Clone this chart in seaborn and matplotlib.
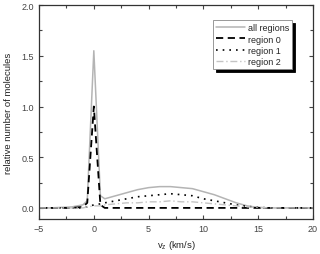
import matplotlib
matplotlib.use("Agg")
import matplotlib.pyplot as plt
import pandas as pd
import seaborn as sns
from matplotlib.ticker import MultipleLocator

# velocity grid (km/s)
vz = [-5, -4, -3, -2, -1, -0.6, 0, 0.6, 1, 2, 3, 4, 5, 6, 7, 8, 9, 10,
      11, 12, 13, 14, 15, 16, 17, 18, 19, 20]

all_regions = [0, 0, 0.005, 0.01, 0.03, 0.07, 1.55, 0.12, 0.09, 0.12, 0.15,
               0.18, 0.20, 0.21, 0.21, 0.20, 0.19, 0.16, 0.13, 0.09, 0.05,
               0.02, 0.005, 0, 0, 0, 0, 0]
region0 = [0, 0, 0, 0, 0.01, 0.05, 1.0, 0.03, 0, 0, 0, 0, 0, 0, 0, 0, 0, 0,
           0, 0, 0, 0, 0, 0, 0, 0, 0, 0]
region1 = [0, 0, 0, 0, 0, 0.01, 0.03, 0.04, 0.05, 0.07, 0.09, 0.11, 0.12,
           0.13, 0.14, 0.13, 0.12, 0.09, 0.07, 0.05, 0.03, 0.015, 0.005,
           0, 0, 0, 0, 0]
region2 = [0, 0, 0, 0, 0, 0.01, 0.02, 0.02, 0.03, 0.04, 0.05, 0.05, 0.06,
           0.06, 0.07, 0.06, 0.06, 0.05, 0.04, 0.03, 0.02, 0.01, 0.005,
           0, 0, 0, 0, 0]

sns.set_style("ticks")
plt.rcParams["font.family"] = ["Liberation Sans", "DejaVu Sans"]

fig = plt.figure(figsize=(3.2, 2.55), dpi=100)
ax = fig.add_axes([0.122, 0.137, 0.856, 0.839])

series = [
    ("all regions", all_regions, dict(color="#b4b4b4", linestyle="-", linewidth=1.1)),
    ("region 0", region0, dict(color="black", linestyle=(0, (4, 2.5)), linewidth=1.3)),
    ("region 1", region1, dict(color="black", linestyle=(0, (1, 3)), linewidth=1.2)),
    ("region 2", region2, dict(color="#c4c4c4", linestyle=(0, (5, 2, 1, 2)), linewidth=1.0)),
]
for name, vals, style in series:
    df = pd.DataFrame({"vz": vz, "n": vals})
    sns.lineplot(data=df, x="vz", y="n", ax=ax, label=name, **style)

ax.set_xlim(-5, 20)
ax.set_ylim(-0.11, 2.0)
ax.xaxis.set_major_locator(MultipleLocator(5))
ax.xaxis.set_minor_locator(MultipleLocator(2.5))
ax.yaxis.set_major_locator(MultipleLocator(0.5))
ax.yaxis.set_minor_locator(MultipleLocator(0.25))
ax.yaxis.set_major_formatter(matplotlib.ticker.FormatStrFormatter("%.1f"))
ax.tick_params(which="both", direction="in", top=True, right=True,
               labelsize=6.5, colors="#444444", width=0.8)
ax.tick_params(which="major", length=3)
ax.tick_params(which="minor", length=2)
for sp in ax.spines.values():
    sp.set_color("#333333")
    sp.set_linewidth(0.9)

ax.set_xlabel(r"v$_\mathregular{z}$ (km/s)", fontsize=6.8, color="#222222", labelpad=4)
ax.set_ylabel("relative number of molecules", fontsize=6.8, color="#222222", labelpad=6)

leg = ax.legend(loc="upper left", bbox_to_anchor=(0.635, 0.93), fontsize=6.5,
                frameon=True, fancybox=False, handlelength=3.2, handletextpad=0.3,
                borderpad=0.35, labelspacing=0.25, borderaxespad=0,
                shadow={"color": "black", "alpha": 1})
leg.get_frame().set_edgecolor("#888888")
leg.get_frame().set_linewidth(0.6)
leg.get_frame().set_alpha(1)

fig.savefig("out.png", dpi=100)
